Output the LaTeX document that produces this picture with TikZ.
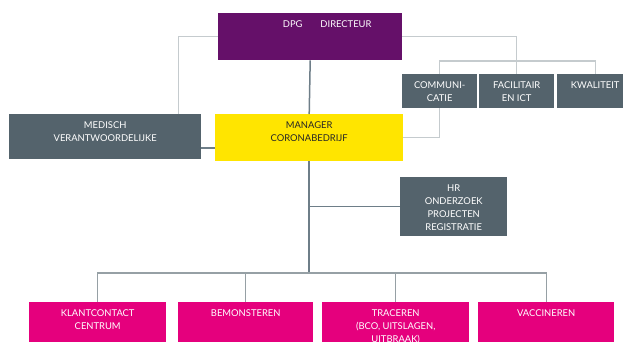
\documentclass[tikz,border=0pt]{standalone}
\usepackage{fontspec}
\setmainfont{Lato}
\usepackage{tikz}
\usetikzlibrary{positioning}

\definecolor{dpgpurple}{RGB}{101,16,105}
\definecolor{slate}{RGB}{84,99,108}
\definecolor{coronayellow}{RGB}{255,229,0}
\definecolor{teammagenta}{RGB}{229,0,125}
\definecolor{lightline}{RGB}{197,203,206}
\definecolor{darkline}{RGB}{110,126,136}
\definecolor{busline}{RGB}{150,160,165}

%% box text: width, height, lines (text starts at the top)
\newcommand{\boxlbl}[3]{\parbox[t][#2][t]{#1}{\centering\baselineskip=13pt\rule{0pt}{14.5pt}#3}}

\begin{document}
\begin{tikzpicture}[x=1pt,y=-1pt,
  %%Stijlen
    orgbox/.style = {rectangle, inner sep=0pt, anchor=north west,
      font=\fontsize{9.4}{13}\selectfont, text=white},
    directie/.style = {orgbox, fill=dpgpurple},
    staf/.style     = {orgbox, fill=slate},
    manager/.style  = {orgbox, fill=coronayellow, text=black!85},
    team/.style     = {orgbox, fill=teammagenta},
    thinln/.style   = {draw=lightline, line width=1.2pt},
    mainln/.style   = {draw=darkline, line width=1.5pt},
    busln/.style    = {draw=busline, line width=1.2pt}
  ]
  \useasboundingbox (0,0) rectangle (623,341);
  %%Nodos
  \node [directie] (dir) at (218,13) {\boxlbl{184pt}{47pt}{\hspace*{34pt}DPG\hspace{1.9em}DIRECTEUR}};
  \node [staf] (med) at (9,114) {\boxlbl{192pt}{45pt}{MEDISCH\\VERANTWOORDELIJKE}};
  \node [manager] (man) at (215,114) {\boxlbl{188pt}{47pt}{MANAGER\\CORONABEDRIJF}};
  \node [staf] (comm) at (402,74) {\boxlbl{75pt}{34pt}{COMMUNI-\\CATIE}};
  \node [staf] (fac) at (479,74) {\boxlbl{75pt}{34pt}{FACILITAIR\\EN ICT}};
  \node [staf] (kwal) at (557,74) {\boxlbl{76pt}{34pt}{KWALITEIT}};
  \node [staf] (hr) at (400,177) {\boxlbl{107pt}{59pt}{HR\\ONDERZOEK\\PROJECTEN\\REGISTRATIE}};
  \node [team] (kc) at (29,302) {\boxlbl{137pt}{55pt}{KLANTCONTACT\\CENTRUM}};
  \node [team] (bem) at (178,302) {\boxlbl{135pt}{55pt}{BEMONSTEREN}};
  \node [team] (tra) at (322,302) {\boxlbl{147pt}{55pt}{TRACEREN\\(BCO, UITSLAGEN,\\UITBRAAK)}};
  \node [team] (vac) at (478,302) {\boxlbl{136pt}{55pt}{VACCINEREN}};
  \coordinate (hub) at (man.south |- 0,273);

  %%Lijnen
  \draw [thinln] (dir.west) -| ([xshift=-23pt]med.north east);
  \draw [thinln] (dir.east) -| (fac.north);
  \draw [thinln] (comm.north) |- ([yshift=13pt]kwal.north) -- (kwal.north);
  \draw [thinln] (comm.south) |- (man.east);
  \draw [mainln] (med.east |- 0,148) -- (man.west |- 0,148);
  \draw [mainln] (dir.south) -- (man.north);
  \draw [mainln] (man.south) -- (hub);
  \draw [mainln] (man.south |- hr.west) -- (hr.west);
  \foreach \n in {kc,bem,tra,vac}
    \draw [busln] (hub) -| (\n.north);
\end{tikzpicture}
\end{document}
